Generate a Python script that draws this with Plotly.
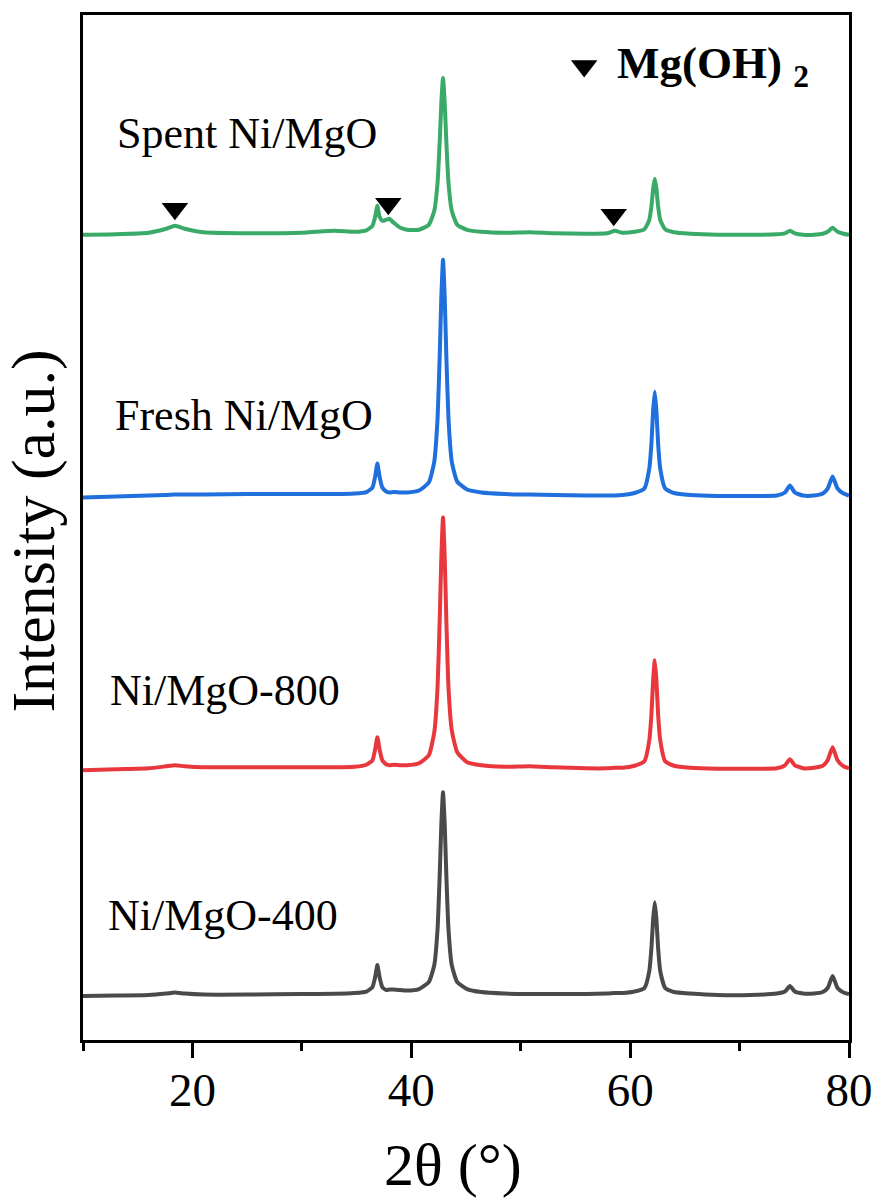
import plotly.graph_objects as go

# ---------------- data ----------------
two_theta = [10, 13, 16, 17.6, 18.4, 19.3, 21, 25, 30, 33,
             34.8, 35.9, 36.45, 36.7, 36.9, 37.1, 37.35, 37.7, 38.0, 38.4,
             39.0, 39.6, 40.7, 41.6, 42.1, 42.4, 42.6, 42.75, 42.9, 43.05,
             43.2, 43.4, 43.7, 44.2, 45.1, 46.4, 48.5, 50.8, 53, 56,
             57.9, 58.6, 59.3, 60.4, 61.3, 61.75, 61.95, 62.1, 62.25, 62.4,
             62.55, 62.75, 63.2, 64.0, 65.5, 68, 71, 73.4, 74.15, 74.6,
             75.05, 75.8, 76.8, 77.6, 78.05, 78.5, 78.95, 79.5, 80]

int_400 = [0, 0.5, 1, 2.5, 3.5, 2.5, 1.5, 1.5, 2, 2.2,
           3, 4.5, 9, 19, 31, 19, 9, 6, 6.5, 6.5,
           6, 5.5, 7, 14, 31, 67, 122, 173, 204, 173,
           122, 67, 31, 14, 7, 4, 2.5, 2, 2, 2,
           2.5, 3, 3, 4.5, 8, 25, 49, 77, 94, 77,
           49, 25, 8, 4, 2.5, 1, 1, 2.5, 4.5, 10,
           4.5, 2.5, 2.5, 4, 8, 20, 8, 3.5, 2]

int_800 = [0, 1, 2, 4, 5, 4, 3, 3, 3, 3,
           3.5, 5.5, 10, 21, 33, 21, 10, 6, 5, 5.5,
           5, 5, 7, 15, 38, 83, 152, 215, 253, 215,
           152, 83, 40, 18, 8, 5, 3.5, 4, 3, 2,
           2, 2.5, 2.5, 4.5, 9, 30, 57, 90, 110, 90,
           57, 30, 9, 4.5, 2.5, 1.5, 1.5, 2, 5, 11,
           5, 2, 2.5, 4.5, 10, 23, 10, 4, 2]

int_fresh = [0, 1, 2, 2.5, 3, 3, 3, 3.5, 3.5, 3.5,
             4, 5.5, 10, 21, 34, 21, 10, 6, 5, 5.5,
             5, 5, 7, 15, 36, 79, 143, 202, 238, 202,
             143, 79, 36, 16, 8, 5, 3.5, 3, 2.5, 2,
             2, 2, 2.5, 4.5, 9, 29, 55, 87, 106, 87,
             55, 29, 9, 4.5, 2.5, 1.5, 1.5, 2, 5, 12,
             5, 2, 2, 4, 9, 21, 9, 4, 2]

int_spent = [0, 0.5, 2, 6, 9, 6, 2.5, 1.5, 2, 4,
             3, 4.5, 9, 18, 29, 18, 14, 15, 16, 12,
             7, 5, 5, 10, 24, 52, 94, 133, 157, 133,
             94, 52, 24, 10, 5, 3, 2, 2.5, 1.5, 1,
             1.5, 4, 2, 3, 5.5, 15, 29, 46, 56, 46,
             29, 15, 5.5, 2.5, 1, 0, 0, 0.5, 1.5, 4,
             1.5, 0, 0, 1, 3, 7, 3, 1, 0]

sample_names = ["Ni/MgO-400", "Ni/MgO-800", "Fresh Ni/MgO", "Spent Ni/MgO"]
mgoh2_2theta = [18.4, 37.9, 58.5]

# ---------------- styling / layout ----------------
series = [int_400, int_800, int_fresh, int_spent]
colors = ["#4a4a4a", "#e8383d", "#1f6fdc", "#3aaa68"]
stack_offset = [44, 270, 543, 806]
label_pos = [(12.1, 125), (12.25, 350), (12.7, 625), (12.9, 907)]
marker_y = [832, 837, 826]
FONT = "Liberation Serif, Times New Roman, serif"

fig = go.Figure()
for vals, col, off in zip(series, colors, stack_offset):
    fig.add_trace(go.Scatter(
        x=two_theta, y=[v + off for v in vals], mode="lines",
        line=dict(color=col, width=4, shape="spline", smoothing=0.5),
        showlegend=False, hoverinfo="skip"))

fig.add_trace(go.Scatter(
    x=mgoh2_2theta, y=marker_y, mode="markers",
    marker=dict(symbol="triangle-down", size=23, color="black"),
    showlegend=False, hoverinfo="skip"))

# legend-like key
fig.add_trace(go.Scatter(
    x=[55.8], y=[975], mode="markers",
    marker=dict(symbol="triangle-down", size=23, color="black"),
    showlegend=False, hoverinfo="skip"))
fig.add_annotation(x=58.6, y=975, xref="x", yref="y", xanchor="left", yanchor="middle",
                   text="<b>Mg(OH) <sub>2</sub></b>", showarrow=False,
                   font=dict(family=FONT, size=45, color="black"))

for name, (lx, ly) in zip(sample_names, label_pos):
    fig.add_annotation(x=lx, y=ly, xref="x", yref="y", xanchor="left", yanchor="middle",
                       text=name, showarrow=False,
                       font=dict(family=FONT, size=44, color="black"))

fig.add_annotation(x=0.4826, y=-0.122, xref="paper", yref="paper",
                   xanchor="center", yanchor="middle", text="2θ (°)", showarrow=False,
                   font=dict(family=FONT, size=60, color="black"))
fig.add_annotation(x=-0.064, y=0.497, xref="paper", yref="paper",
                   xanchor="center", yanchor="middle", text="Intensity (a.u.)",
                   textangle=-90, showarrow=False,
                   font=dict(family=FONT, size=62, color="black"))

fig.update_layout(
    width=885, height=1201,
    margin=dict(l=83, r=27, t=14, b=161),
    paper_bgcolor="white", plot_bgcolor="white",
    xaxis=dict(range=[10, 80], tick0=0, dtick=20, ticks="outside", ticklen=15,
               tickwidth=2.5, tickcolor="black", showline=True, linecolor="black",
               linewidth=2.5, mirror=True, showgrid=False, zeroline=False,
               ticklabelstandoff=-8,
               tickfont=dict(family=FONT, size=47, color="black"),
               minor=dict(dtick=10, tick0=0, ticks="outside", ticklen=8,
                          tickwidth=2.5, tickcolor="black", showgrid=False)),
    yaxis=dict(range=[0, 1026], showticklabels=False, ticks="", showline=True,
               linecolor="black", linewidth=2.5, mirror=True, showgrid=False,
               zeroline=False),
)

fig.write_html("out.html")
